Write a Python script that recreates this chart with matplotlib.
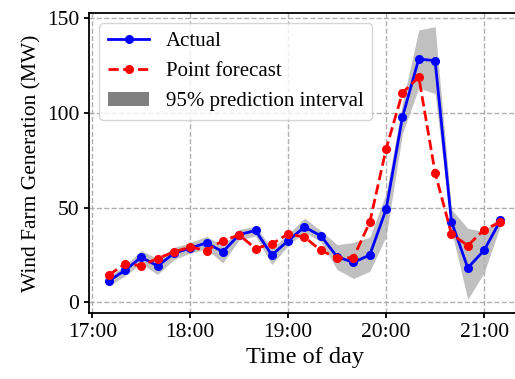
import numpy as np
import pandas as pd
import matplotlib
matplotlib.use("Agg")
import matplotlib.pyplot as plt
import matplotlib.dates as mdates
from matplotlib.patches import Patch
from matplotlib.lines import Line2D

# 10-minute steps from 17:10 to 21:10
times = pd.date_range("2020-01-01 17:10", "2020-01-01 21:10", freq="10min")

actual = [11.2, 16.9, 23.8, 19.2, 25.8, 28.7, 31.3, 26.7, 35.7, 37.9, 24.9, 32.6, 39.7,
          35.1, 24.0, 21.1, 25.0, 49.1, 97.7, 128.3, 127.3, 42.6, 18.2, 27.4, 43.2]
forecast = [14.3, 20.3, 19.4, 23.1, 26.6, 29.2, 27.3, 32.6, 35.5, 28.4, 30.8, 36.1, 34.4,
            27.4, 23.4, 23.6, 42.3, 80.9, 110.5, 118.7, 68.3, 36.1, 29.9, 38.3, 42.3]
upper = [13.5, 19.5, 27.3, 23.0, 29.0, 31.5, 34.8, 30.0, 38.5, 40.0, 28.5, 36.0, 44.4,
         37.8, 30.4, 31.6, 34.4, 57.5, 105.0, 143.5, 145.3, 49.0, 39.0, 37.4, 45.6]
lower = [8.5, 14.0, 20.5, 14.7, 22.5, 26.0, 28.0, 20.8, 33.0, 35.0, 19.9, 30.0, 37.0,
         32.0, 17.3, 12.6, 16.4, 34.8, 89.0, 113.0, 110.0, 38.0, 1.6, 15.6, 40.4]

plt.rcParams['font.family'] = ['Liberation Serif', 'DejaVu Serif']

fig = plt.figure(figsize=(5.15, 3.79), dpi=100)
ax = fig.add_axes([89 / 515, 1 - 313 / 379, 431 / 515, 300 / 379])

ax.fill_between(times, lower, upper, color='#c0c0c0', linewidth=0)
ax.plot(times, actual, color='blue', marker='o', markersize=5.5, linewidth=2)
ax.plot(times, forecast, color='red', marker='o', markersize=5.5, linewidth=2, linestyle='--')

ax.xaxis.set_major_locator(mdates.HourLocator())
ax.xaxis.set_major_formatter(mdates.DateFormatter('%H:%M'))
ax.set_yticks([0, 50, 100, 150])
ax.tick_params(labelsize=15.5, width=1.3)
for s in ax.spines.values():
    s.set_linewidth(1.3)

ax.grid(True, linestyle='--', color='#b0b0b0', linewidth=1)
ax.set_xlabel('Time of day', fontsize=17.5)
ax.set_ylabel('Wind Farm Generation (MW)', fontsize=15.5)

handles = [Line2D([], [], color='blue', marker='o', markersize=5.5, linewidth=2),
           Line2D([], [], color='red', marker='o', markersize=5.5, linewidth=2, linestyle='--'),
           Patch(facecolor='gray')]
ax.legend(handles, ['Actual', 'Point forecast', '95% prediction interval'],
          loc='upper left', fontsize=15)

fig.savefig('out.png', dpi=100)
